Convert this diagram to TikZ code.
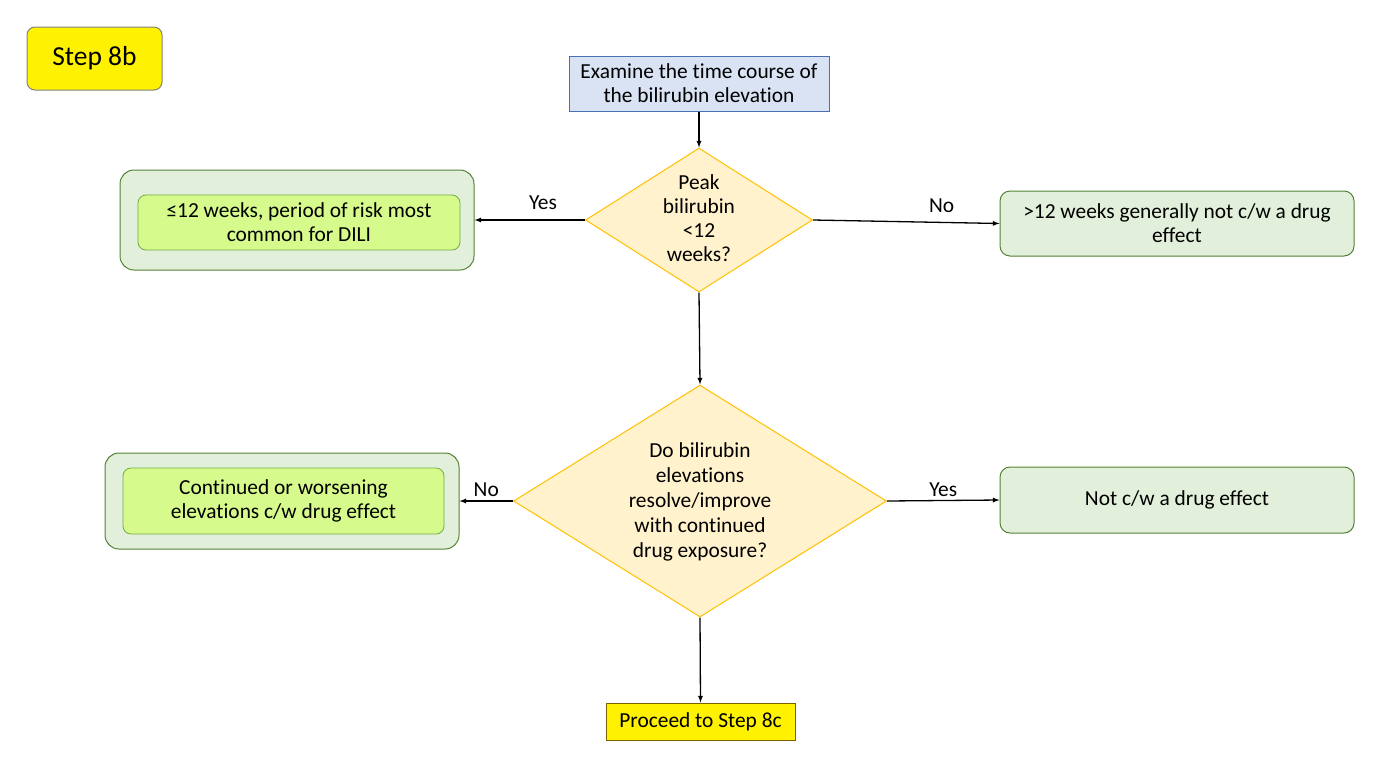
\documentclass[tikz,border=0pt]{standalone}
\usepackage{fontspec}
\setmainfont{Carlito}[Ligatures=NoCommon,Contextuals=NoAlternate]
\usepackage{tikz}
\usepackage{xcolor}
\usetikzlibrary{shapes,arrows}

\definecolor{boxblue}{HTML}{DAE3F3}
\definecolor{lineblue}{HTML}{4A6FB5}
\definecolor{decfill}{HTML}{FFF2CC}
\definecolor{decline}{HTML}{FFC000}
\definecolor{outgreen}{HTML}{E2EFDA}
\definecolor{outline}{HTML}{548235}
\definecolor{ingreen}{HTML}{D6FA8C}
\definecolor{inline}{HTML}{70AD47}
\definecolor{goldline}{HTML}{7F6000}

\begin{document}
\begin{tikzpicture}[x=1pt,y=-1pt,
    every node/.style={font=\fontsize{21.4}{24}\selectfont},
    startbox/.style={rectangle,draw=lineblue,fill=boxblue,line width=1pt,minimum width=260pt,minimum height=55pt,align=center},
    decision/.style={diamond,draw=decline,fill=decfill,line width=1pt,inner sep=0pt},
    outerbox/.style={rectangle,rounded corners=14pt,draw=outline,fill=outgreen,line width=1pt},
    innerbox/.style={rectangle,rounded corners=8pt,draw=inline,fill=ingreen,line width=0.8pt,align=center},
    flowline/.style={line width=1.3pt,-latex}]
                \useasboundingbox (0,0) rectangle (1380,766);

                % Step label
                \node[rectangle,rounded corners=8pt,draw=gray,fill=yellow,line width=1pt,minimum width=135pt,minimum height=63pt,font=\fontsize{27.5}{32}\selectfont] (steplabel) at (94.5,58.5) {Step 8b};

                % Start box
                \node[startbox] (examine) at (699,83.5) {Examine the time course of\\the bilirubin elevation};

                % First decision
                \node[decision,minimum width=227pt,minimum height=144pt] (peak) at (699,220) {};
                \node[align=center] (peaktext) at (699,218) {Peak\\bilirubin\\<12\\weeks?};

                % Yes / No outcomes of first decision
                \node[outerbox,minimum width=354pt,minimum height=100pt] (shortouter) at (297,220) {};
                \node[innerbox,minimum width=322pt,minimum height=55pt] (shortinner) at (299,222.5) {≤12 weeks, period of risk most\\common for DILI};
                \node[outerbox,rounded corners=10pt,minimum width=354pt,minimum height=65pt,align=center] (longbox) at (1177,223.5) {>12 weeks generally not c/w a drug\\effect};

                % Second decision
                \node[decision,minimum width=373pt,minimum height=232pt] (resolve) at (700,501) {};
                \node[align=center,font=\fontsize{21.4}{25}\selectfont] (resolvetext) at (700,502) {Do bilirubin\\elevations\\resolve/improve\\with continued\\drug exposure?};

                % Yes / No outcomes of second decision
                \node[outerbox,minimum width=354pt,minimum height=96pt] (worseouter) at (282,501) {};
                \node[innerbox,minimum width=321pt,minimum height=66pt] (worseinner) at (283.5,501) {Continued or worsening\\elevations c/w drug effect};
                \node[outerbox,rounded corners=10pt,minimum width=354pt,minimum height=66pt] (notdrug) at (1177,500) {Not c/w a drug effect};

                % Final box
                \node[rectangle,draw=goldline,fill=yellow,line width=1pt,minimum width=189pt,minimum height=37pt] (proceed) at (700.5,721.5) {Proceed to Step 8c};

                % Connectors
                \draw[flowline] (examine) -- (peak);
                \draw[flowline] (peak.west) -- (shortouter.east) node[pos=0.38,above=6pt] (yeslabel) {Yes};
                \draw[flowline] (peak.east) -- (longbox.west) node[pos=0.69,above=6pt] (nolabel) {No};
                \draw[flowline] (peak.south) -- (resolve.north);
                \draw[flowline] (resolve.west) -- (worseouter.east) node[midway,above=0pt] (nolabeltwo) {No};
                \draw[flowline] (resolve.east) -- (notdrug.west) node[midway,above=0pt] (yeslabeltwo) {Yes};
                \draw[flowline] (resolve.south) -- (proceed.north);
            \end{tikzpicture}
\end{document}
